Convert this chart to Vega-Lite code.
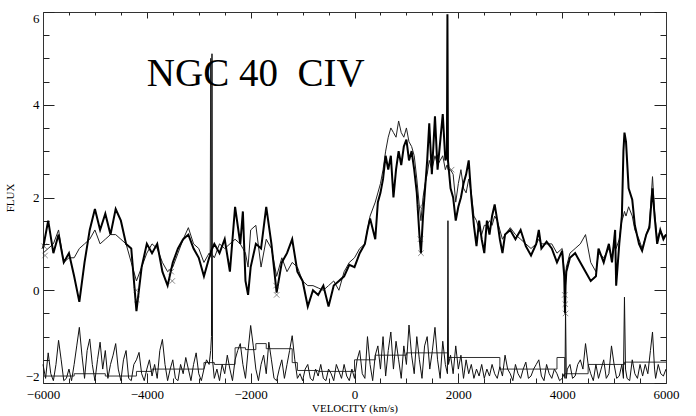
{
  "$schema": "https://vega.github.io/schema/vega-lite/v6.json",
  "width": 623,
  "height": 371,
  "autosize": {"type": "none"},
  "padding": {"left": 43, "top": 12, "right": 30, "bottom": 33},
  "background": "white",
  "config": {
    "view": {"stroke": null},
    "axis": {
      "labelFont": "Liberation Serif",
      "titleFont": "Liberation Serif",
      "labelColor": "black",
      "titleColor": "black",
      "domainColor": "#333333",
      "tickColor": "#222222",
      "grid": false,
      "labelFontSize": 13,
      "titleFontSize": 12,
      "titleFontWeight": "normal"
    }
  },
  "datasets": {
    "spec": [
      {"v": -6000, "thick": 0.9, "thin": 0.8},
      {"v": -5900, "thick": 1.5, "thin": 0.9},
      {"v": -5800, "thick": 0.8, "thin": 1.0},
      {"v": -5700, "thick": 1.2, "thin": 1.3},
      {"v": -5600, "thick": 0.6, "thin": 0.6},
      {"v": -5500, "thick": 0.8, "thin": 0.7},
      {"v": -5400, "thick": 0.3, "thin": 0.7},
      {"v": -5300, "thick": -0.25, "thin": 0.9},
      {"v": -5200, "thick": 0.6, "thin": 1.0},
      {"v": -5100, "thick": 1.3, "thin": 1.1},
      {"v": -5000, "thick": 1.75, "thin": 1.3},
      {"v": -4900, "thick": 1.3, "thin": 1.0},
      {"v": -4800, "thick": 1.65, "thin": 1.1},
      {"v": -4700, "thick": 1.2, "thin": 1.2},
      {"v": -4600, "thick": 1.75, "thin": 1.2},
      {"v": -4500, "thick": 1.5, "thin": 1.1},
      {"v": -4400, "thick": 1.0, "thin": 1.0},
      {"v": -4300, "thick": 0.9, "thin": 0.6},
      {"v": -4200, "thick": -0.45, "thin": 0.2},
      {"v": -4100, "thick": 0.5, "thin": 0.5},
      {"v": -4000, "thick": 1.0, "thin": 0.8},
      {"v": -3900, "thick": 0.8, "thin": 1.0},
      {"v": -3800, "thick": 1.0, "thin": 0.9},
      {"v": -3700, "thick": 0.4, "thin": 0.6},
      {"v": -3600, "thick": 0.1, "thin": 0.4},
      {"v": -3500, "thick": 0.6, "thin": 0.5},
      {"v": -3400, "thick": 0.9, "thin": 0.8},
      {"v": -3300, "thick": 1.1, "thin": 1.1},
      {"v": -3200, "thick": 1.2, "thin": 1.35},
      {"v": -3100, "thick": 0.9, "thin": 1.0},
      {"v": -3000, "thick": 0.7, "thin": 0.9},
      {"v": -2900, "thick": 0.3, "thin": 0.6},
      {"v": -2800, "thick": 0.7, "thin": 0.8},
      {"v": -2780, "thick": 0.75, "thin": 0.75},
      {"v": -2770, "thick": 0.8, "thin": 5.0},
      {"v": -2760, "thick": 0.85, "thin": 0.8},
      {"v": -2700, "thick": 1.0, "thin": 0.7},
      {"v": -2600, "thick": 0.8, "thin": 1.0},
      {"v": -2500, "thick": 1.1, "thin": 0.9},
      {"v": -2400, "thick": 0.4, "thin": 1.0},
      {"v": -2300, "thick": 1.8, "thin": 1.1},
      {"v": -2200, "thick": 1.0, "thin": 1.0},
      {"v": -2150, "thick": 1.7, "thin": 0.9},
      {"v": -2100, "thick": 0.2, "thin": 0.8},
      {"v": -2050, "thick": -0.1, "thin": 0.5},
      {"v": -2000, "thick": 0.5, "thin": 1.3},
      {"v": -1900, "thick": 1.0, "thin": 1.4},
      {"v": -1800, "thick": 0.9, "thin": 0.5},
      {"v": -1700, "thick": 1.8, "thin": 1.1},
      {"v": -1600, "thick": 1.0, "thin": 0.9},
      {"v": -1500, "thick": -0.05, "thin": 0.3},
      {"v": -1400, "thick": 0.6, "thin": 0.7},
      {"v": -1300, "thick": 0.8, "thin": 0.4},
      {"v": -1200, "thick": 1.1, "thin": 0.6},
      {"v": -1100, "thick": 0.4, "thin": 0.5},
      {"v": -1000, "thick": 0.2, "thin": 0.2},
      {"v": -900, "thick": -0.35, "thin": 0.1},
      {"v": -800, "thick": 0.0, "thin": 0.1},
      {"v": -700, "thick": -0.1, "thin": 0.05},
      {"v": -600, "thick": 0.1, "thin": 0.0},
      {"v": -500, "thick": -0.35, "thin": 0.1},
      {"v": -400, "thick": 0.1, "thin": 0.2},
      {"v": -300, "thick": 0.2, "thin": 0.0},
      {"v": -200, "thick": 0.3, "thin": 0.4},
      {"v": -100, "thick": 0.55, "thin": 0.6},
      {"v": 0, "thick": 0.5, "thin": 0.7},
      {"v": 100, "thick": 0.8, "thin": 0.9},
      {"v": 200, "thick": 1.0, "thin": 1.0},
      {"v": 250, "thick": 1.3, "thin": 1.3},
      {"v": 300, "thick": 1.55, "thin": 1.6},
      {"v": 400, "thick": 1.1, "thin": 1.9},
      {"v": 450, "thick": 1.9, "thin": 2.1},
      {"v": 500, "thick": 2.1, "thin": 2.3},
      {"v": 550, "thick": 2.4, "thin": 2.6},
      {"v": 600, "thick": 2.9, "thin": 3.0},
      {"v": 650, "thick": 2.6, "thin": 3.3},
      {"v": 700, "thick": 2.9, "thin": 3.5},
      {"v": 750, "thick": 2.0, "thin": 3.4},
      {"v": 800, "thick": 2.6, "thin": 3.3},
      {"v": 850, "thick": 3.0, "thin": 3.65},
      {"v": 900, "thick": 2.7, "thin": 3.4},
      {"v": 950, "thick": 3.1, "thin": 3.3},
      {"v": 1000, "thick": 3.25, "thin": 3.5},
      {"v": 1050, "thick": 2.8, "thin": 3.2},
      {"v": 1100, "thick": 3.0, "thin": 3.1},
      {"v": 1150, "thick": 2.6, "thin": 2.9},
      {"v": 1200, "thick": 2.1, "thin": 2.4},
      {"v": 1250, "thick": 1.2, "thin": 1.8},
      {"v": 1280, "thick": 0.8, "thin": 1.5},
      {"v": 1320, "thick": 1.6, "thin": 2.0},
      {"v": 1360, "thick": 2.2, "thin": 2.3},
      {"v": 1400, "thick": 2.8, "thin": 2.5},
      {"v": 1440, "thick": 3.6, "thin": 2.8},
      {"v": 1490, "thick": 2.5, "thin": 2.6},
      {"v": 1550, "thick": 3.75, "thin": 2.9},
      {"v": 1600, "thick": 2.6, "thin": 2.7},
      {"v": 1650, "thick": 3.2, "thin": 2.8},
      {"v": 1700, "thick": 3.8, "thin": 2.9},
      {"v": 1750, "thick": 2.8, "thin": 2.6},
      {"v": 1780, "thick": 2.9, "thin": 2.7},
      {"v": 1790, "thick": 5.95, "thin": 2.7},
      {"v": 1800, "thick": 2.8, "thin": 2.6},
      {"v": 1850, "thick": 2.2, "thin": 2.6},
      {"v": 1900, "thick": 2.0, "thin": 2.5},
      {"v": 1950, "thick": 1.5, "thin": 1.9},
      {"v": 2000, "thick": 1.8, "thin": 2.3},
      {"v": 2050, "thick": 2.0, "thin": 2.6},
      {"v": 2100, "thick": 2.3, "thin": 2.2},
      {"v": 2150, "thick": 2.5, "thin": 2.1},
      {"v": 2200, "thick": 2.8, "thin": 2.4},
      {"v": 2250, "thick": 2.0, "thin": 2.1},
      {"v": 2300, "thick": 1.4, "thin": 1.6},
      {"v": 2350, "thick": 0.95, "thin": 1.5},
      {"v": 2400, "thick": 1.5, "thin": 1.3},
      {"v": 2450, "thick": 1.1, "thin": 1.2},
      {"v": 2500, "thick": 0.8, "thin": 1.4},
      {"v": 2550, "thick": 1.5, "thin": 1.4},
      {"v": 2600, "thick": 1.2, "thin": 1.5},
      {"v": 2650, "thick": 1.6, "thin": 1.4},
      {"v": 2700, "thick": 1.85, "thin": 1.6},
      {"v": 2750, "thick": 1.5, "thin": 1.5},
      {"v": 2800, "thick": 1.1, "thin": 1.3},
      {"v": 2850, "thick": 0.8, "thin": 1.1},
      {"v": 2900, "thick": 1.2, "thin": 1.2},
      {"v": 3000, "thick": 1.3, "thin": 1.35},
      {"v": 3100, "thick": 1.1, "thin": 1.2},
      {"v": 3200, "thick": 1.3, "thin": 1.1},
      {"v": 3300, "thick": 0.95, "thin": 1.0},
      {"v": 3400, "thick": 0.75, "thin": 0.9},
      {"v": 3500, "thick": 1.0, "thin": 1.0},
      {"v": 3550, "thick": 1.3, "thin": 1.1},
      {"v": 3600, "thick": 0.9, "thin": 1.0},
      {"v": 3700, "thick": 1.05, "thin": 1.0},
      {"v": 3800, "thick": 0.9, "thin": 1.0},
      {"v": 3900, "thick": 0.6, "thin": 0.8},
      {"v": 4000, "thick": 0.85, "thin": 0.9},
      {"v": 4040, "thick": 0.3, "thin": 0.4},
      {"v": 4055, "thick": -0.5, "thin": -0.3},
      {"v": 4065, "thick": 0.1, "thin": 0.2},
      {"v": 4080, "thick": 0.4, "thin": 0.5},
      {"v": 4150, "thick": 0.7, "thin": 0.8},
      {"v": 4250, "thick": 0.8, "thin": 0.9},
      {"v": 4350, "thick": 0.6, "thin": 1.0},
      {"v": 4450, "thick": 0.4, "thin": 1.2},
      {"v": 4550, "thick": 0.2, "thin": 0.6},
      {"v": 4650, "thick": 0.3, "thin": 0.4},
      {"v": 4700, "thick": 0.9, "thin": 0.8},
      {"v": 4800, "thick": 0.6, "thin": 0.7},
      {"v": 4900, "thick": 1.0, "thin": 0.9},
      {"v": 4960, "thick": 0.6, "thin": 0.7},
      {"v": 5020, "thick": 1.3, "thin": 1.2},
      {"v": 5040, "thick": 0.1, "thin": 0.9},
      {"v": 5100, "thick": 1.0, "thin": 1.1},
      {"v": 5150, "thick": 1.6, "thin": 1.5},
      {"v": 5180, "thick": 3.0, "thin": 1.6},
      {"v": 5200, "thick": 3.4, "thin": 1.7},
      {"v": 5230, "thick": 3.2, "thin": 1.6},
      {"v": 5280, "thick": 2.2, "thin": 1.8},
      {"v": 5350, "thick": 1.95, "thin": 1.6},
      {"v": 5400, "thick": 1.4, "thin": 1.3},
      {"v": 5480, "thick": 1.0, "thin": 1.1},
      {"v": 5540, "thick": 0.85, "thin": 0.9},
      {"v": 5620, "thick": 1.2, "thin": 1.2},
      {"v": 5680, "thick": 1.35, "thin": 1.4},
      {"v": 5740, "thick": 2.2, "thin": 2.45},
      {"v": 5780, "thick": 1.6, "thin": 1.7},
      {"v": 5830, "thick": 1.0, "thin": 1.1},
      {"v": 5890, "thick": 1.3, "thin": 1.3},
      {"v": 5950, "thick": 1.1, "thin": 1.15},
      {"v": 6000, "thick": 1.2, "thin": 1.2}
    ],
    "noise": [
      {"v": -6000, "n": -1.6}, {"v": -5950, "n": -1.9}, {"v": -5900, "n": -1.35}, {"v": -5850, "n": -1.8},
      {"v": -5800, "n": -1.95}, {"v": -5750, "n": -1.6}, {"v": -5700, "n": -1.08}, {"v": -5650, "n": -1.5},
      {"v": -5600, "n": -1.95}, {"v": -5550, "n": -1.9}, {"v": -5500, "n": -1.7}, {"v": -5450, "n": -1.95},
      {"v": -5400, "n": -1.6}, {"v": -5350, "n": -1.2}, {"v": -5300, "n": -0.8}, {"v": -5250, "n": -1.4},
      {"v": -5200, "n": -1.9}, {"v": -5150, "n": -1.3}, {"v": -5100, "n": -1.05}, {"v": -5050, "n": -1.6},
      {"v": -5000, "n": -1.95}, {"v": -4950, "n": -1.5}, {"v": -4900, "n": -1.12}, {"v": -4850, "n": -1.7},
      {"v": -4800, "n": -1.3}, {"v": -4750, "n": -1.9}, {"v": -4700, "n": -1.6}, {"v": -4650, "n": -1.4},
      {"v": -4600, "n": -1.15}, {"v": -4550, "n": -1.7}, {"v": -4500, "n": -1.95}, {"v": -4450, "n": -1.5},
      {"v": -4400, "n": -1.3}, {"v": -4350, "n": -1.9}, {"v": -4300, "n": -1.95}, {"v": -4250, "n": -1.6},
      {"v": -4200, "n": -1.5}, {"v": -4150, "n": -1.34}, {"v": -4100, "n": -1.8}, {"v": -4050, "n": -1.95},
      {"v": -4000, "n": -1.7}, {"v": -3950, "n": -1.5}, {"v": -3900, "n": -1.85}, {"v": -3850, "n": -1.6},
      {"v": -3800, "n": -1.9}, {"v": -3750, "n": -1.3}, {"v": -3700, "n": -1.06}, {"v": -3650, "n": -1.6},
      {"v": -3600, "n": -1.95}, {"v": -3550, "n": -1.7}, {"v": -3500, "n": -1.5}, {"v": -3450, "n": -1.9},
      {"v": -3400, "n": -1.95}, {"v": -3350, "n": -1.6}, {"v": -3300, "n": -1.8}, {"v": -3250, "n": -1.45},
      {"v": -3200, "n": -1.7}, {"v": -3150, "n": -1.95}, {"v": -3100, "n": -1.6}, {"v": -3050, "n": -1.35},
      {"v": -3000, "n": -1.8}, {"v": -2950, "n": -1.95}, {"v": -2900, "n": -1.7}, {"v": -2850, "n": -1.5},
      {"v": -2800, "n": -1.6}, {"v": -2770, "n": -1.3}, {"v": -2755, "n": -1.0}, {"v": -2745, "n": 5.1},
      {"v": -2735, "n": -1.5}, {"v": -2700, "n": -1.9}, {"v": -2650, "n": -1.7}, {"v": -2600, "n": -1.95},
      {"v": -2550, "n": -1.6}, {"v": -2500, "n": -1.8}, {"v": -2450, "n": -1.4}, {"v": -2400, "n": -1.7},
      {"v": -2350, "n": -1.95}, {"v": -2300, "n": -1.5}, {"v": -2250, "n": -1.3}, {"v": -2200, "n": -1.15},
      {"v": -2150, "n": -1.6}, {"v": -2100, "n": -1.9}, {"v": -2050, "n": -1.3}, {"v": -2000, "n": -0.76},
      {"v": -1950, "n": -1.2}, {"v": -1900, "n": -1.7}, {"v": -1850, "n": -1.95}, {"v": -1800, "n": -1.6},
      {"v": -1750, "n": -1.4}, {"v": -1700, "n": -1.8}, {"v": -1650, "n": -1.12}, {"v": -1600, "n": -1.5},
      {"v": -1550, "n": -1.9}, {"v": -1500, "n": -1.95}, {"v": -1450, "n": -1.7}, {"v": -1400, "n": -1.5},
      {"v": -1350, "n": -1.9}, {"v": -1300, "n": -1.6}, {"v": -1250, "n": -1.3}, {"v": -1200, "n": -0.98},
      {"v": -1150, "n": -1.5}, {"v": -1100, "n": -1.9}, {"v": -1050, "n": -1.8}, {"v": -1000, "n": -1.95},
      {"v": -950, "n": -1.7}, {"v": -900, "n": -1.6}, {"v": -850, "n": -1.9}, {"v": -800, "n": -1.95},
      {"v": -750, "n": -1.7}, {"v": -700, "n": -1.85}, {"v": -650, "n": -1.6}, {"v": -600, "n": -1.9},
      {"v": -550, "n": -1.95}, {"v": -500, "n": -1.7}, {"v": -450, "n": -1.8}, {"v": -400, "n": -1.95},
      {"v": -350, "n": -1.6}, {"v": -300, "n": -1.75}, {"v": -250, "n": -1.9}, {"v": -200, "n": -1.6},
      {"v": -150, "n": -1.85}, {"v": -100, "n": -1.95}, {"v": -50, "n": -1.7}, {"v": 0, "n": -1.9},
      {"v": 50, "n": -1.5}, {"v": 100, "n": -1.3}, {"v": 150, "n": -1.8}, {"v": 200, "n": -1.9},
      {"v": 250, "n": -1.0}, {"v": 300, "n": -1.6}, {"v": 350, "n": -1.95}, {"v": 400, "n": -1.4},
      {"v": 450, "n": -1.2}, {"v": 500, "n": -1.7}, {"v": 550, "n": -1.0}, {"v": 600, "n": -1.85},
      {"v": 650, "n": -1.3}, {"v": 700, "n": -0.9}, {"v": 750, "n": -1.7}, {"v": 800, "n": -1.1},
      {"v": 850, "n": -1.5}, {"v": 900, "n": -1.9}, {"v": 950, "n": -1.2}, {"v": 1000, "n": -1.6},
      {"v": 1050, "n": -0.75}, {"v": 1100, "n": -1.4}, {"v": 1150, "n": -1.8}, {"v": 1200, "n": -1.0},
      {"v": 1250, "n": -1.5}, {"v": 1300, "n": -1.9}, {"v": 1350, "n": -1.2}, {"v": 1400, "n": -1.0},
      {"v": 1450, "n": -1.7}, {"v": 1500, "n": -1.3}, {"v": 1550, "n": -0.8}, {"v": 1600, "n": -1.5},
      {"v": 1650, "n": -1.9}, {"v": 1700, "n": -1.1}, {"v": 1750, "n": -1.6}, {"v": 1790, "n": -1.8},
      {"v": 1800, "n": 1.5}, {"v": 1810, "n": -1.6}, {"v": 1850, "n": -1.4}, {"v": 1900, "n": -1.8},
      {"v": 1950, "n": -1.2}, {"v": 2000, "n": -1.7}, {"v": 2050, "n": -1.4}, {"v": 2100, "n": -1.9},
      {"v": 2150, "n": -1.5}, {"v": 2200, "n": -1.8}, {"v": 2250, "n": -1.6}, {"v": 2300, "n": -1.9},
      {"v": 2350, "n": -1.7}, {"v": 2400, "n": -1.85}, {"v": 2450, "n": -1.6}, {"v": 2500, "n": -1.9},
      {"v": 2550, "n": -1.7}, {"v": 2600, "n": -1.85}, {"v": 2650, "n": -1.6}, {"v": 2700, "n": -1.8},
      {"v": 2750, "n": -1.9}, {"v": 2800, "n": -1.65}, {"v": 2850, "n": -1.85}, {"v": 2900, "n": -1.4},
      {"v": 2950, "n": -1.7}, {"v": 3000, "n": -1.8}, {"v": 3050, "n": -1.95}, {"v": 3100, "n": -1.6},
      {"v": 3150, "n": -1.8}, {"v": 3200, "n": -1.9}, {"v": 3250, "n": -1.7}, {"v": 3300, "n": -1.55},
      {"v": 3350, "n": -1.9}, {"v": 3400, "n": -1.85}, {"v": 3450, "n": -1.7}, {"v": 3500, "n": -1.6},
      {"v": 3550, "n": -1.5}, {"v": 3600, "n": -1.85}, {"v": 3650, "n": -1.95}, {"v": 3700, "n": -1.6},
      {"v": 3750, "n": -1.8}, {"v": 3800, "n": -1.9}, {"v": 3850, "n": -1.7}, {"v": 3900, "n": -1.8},
      {"v": 3950, "n": -1.95}, {"v": 4000, "n": -1.9}, {"v": 4040, "n": -1.8}, {"v": 4055, "n": -1.9},
      {"v": 4065, "n": -0.4}, {"v": 4080, "n": -1.9}, {"v": 4100, "n": -1.7}, {"v": 4150, "n": -1.6},
      {"v": 4200, "n": -1.9}, {"v": 4250, "n": -1.85}, {"v": 4300, "n": -1.6}, {"v": 4350, "n": -1.5},
      {"v": 4400, "n": -1.7}, {"v": 4450, "n": -1.15}, {"v": 4500, "n": -1.6}, {"v": 4550, "n": -1.8},
      {"v": 4600, "n": -1.95}, {"v": 4650, "n": -1.6}, {"v": 4700, "n": -1.9}, {"v": 4750, "n": -1.7},
      {"v": 4800, "n": -1.5}, {"v": 4850, "n": -1.9}, {"v": 4900, "n": -1.8}, {"v": 4950, "n": -1.2},
      {"v": 5000, "n": -1.6}, {"v": 5050, "n": -1.9}, {"v": 5100, "n": -1.85}, {"v": 5150, "n": -1.6},
      {"v": 5180, "n": -1.9}, {"v": 5200, "n": -0.15}, {"v": 5220, "n": -1.7}, {"v": 5250, "n": -1.9},
      {"v": 5300, "n": -1.95}, {"v": 5350, "n": -1.5}, {"v": 5400, "n": -1.8}, {"v": 5450, "n": -1.9},
      {"v": 5500, "n": -1.6}, {"v": 5550, "n": -1.85}, {"v": 5600, "n": -1.6}, {"v": 5650, "n": -1.8},
      {"v": 5700, "n": -1.3}, {"v": 5740, "n": -0.9}, {"v": 5780, "n": -1.7}, {"v": 5800, "n": -1.9},
      {"v": 5850, "n": -1.6}, {"v": 5900, "n": -1.8}, {"v": 5950, "n": -1.85}, {"v": 6000, "n": -1.7}
    ],
    "steps": [
      {"v": -6000, "s": -1.85},
      {"v": -5400, "s": -1.8},
      {"v": -4800, "s": -1.85},
      {"v": -4200, "s": -1.75},
      {"v": -3900, "s": -1.7},
      {"v": -2900, "s": -1.56},
      {"v": -2700, "s": -1.6},
      {"v": -2300, "s": -1.24},
      {"v": -2100, "s": -1.28},
      {"v": -1900, "s": -1.15},
      {"v": -1700, "s": -1.26},
      {"v": -1200, "s": -1.56},
      {"v": -1100, "s": -1.73},
      {"v": -700, "s": -1.75},
      {"v": 0, "s": -1.5},
      {"v": 400, "s": -1.4},
      {"v": 1000, "s": -1.35},
      {"v": 1800, "s": -1.45},
      {"v": 2800, "s": -1.7},
      {"v": 3900, "s": -1.45},
      {"v": 4050, "s": -1.8},
      {"v": 4500, "s": -1.6},
      {"v": 5200, "s": -1.55},
      {"v": 6000, "s": -1.55}
    ],
    "marks": [
      {"v": -5980, "f": 0.95},
      {"v": -5960, "f": 0.75},
      {"v": -4200, "f": 0.0},
      {"v": -4190, "f": -0.2},
      {"v": -3530, "f": 0.4},
      {"v": -3510, "f": 0.2},
      {"v": -1510, "f": 0.1},
      {"v": -1500, "f": -0.1},
      {"v": 1260, "f": 1.8},
      {"v": 1270, "f": 1.1},
      {"v": 1280, "f": 0.8},
      {"v": 1870, "f": 2.6},
      {"v": 4050, "f": -0.1},
      {"v": 4060, "f": -0.3},
      {"v": 4065, "f": -0.5}
    ],
    "label": [
      {"text": "NGC 40\u00a0 CIV"}
    ]
  },
  "layer": [
    {
      "data": {"name": "steps"},
      "mark": {"type": "line", "interpolate": "step-after", "color": "#333333", "strokeWidth": 1},
      "encoding": {
        "x": {"field": "v", "type": "quantitative",
              "scale": {"domain": [-6000, 6000], "nice": false, "zero": false},
              "axis": {"orient": "bottom", "values": [-6000, -4000, -2000, 0, 2000, 4000, 6000], "format": "d", "tickSize": -10, "labelPadding": 15, "labelFont": "Liberation Serif", "labelFontSize": 13, "title": "VELOCITY (km/s)", "titleFont": "Liberation Serif", "titlePadding": 1, "titleFontSize": 11, "labelFlush": false}},
        "y": {"field": "s", "type": "quantitative",
              "scale": {"domain": [-2, 6], "nice": false, "zero": false},
              "axis": {"orient": "left", "values": [-2, 0, 2, 4, 6], "format": "d", "tickSize": -11, "labelPadding": 15, "labelFlush": true, "labelFont": "Liberation Serif", "labelFontSize": 13, "title": "FLUX", "titleFont": "Liberation Serif", "titlePadding": 10, "titleFontSize": 11}}
      }
    },
    {
      "data": {"name": "noise"},
      "mark": {"type": "line", "color": "#111111", "strokeWidth": 1},
      "encoding": {
        "x": {"field": "v", "type": "quantitative",
              "scale": {"domain": [-6000, 6000], "nice": false, "zero": false},
              "axis": {"orient": "bottom", "values": [-5500, -5000, -4500, -3500, -3000, -2500, -1500, -1000, -500, 500, 1000, 1500, 2500, 3000, 3500, 4500, 5000, 5500], "tickSize": -5, "labels": false, "domain": false, "title": null}},
        "y": {"field": "n", "type": "quantitative",
              "scale": {"domain": [-2, 6], "nice": false, "zero": false},
              "axis": {"orient": "left", "values": [-1.5, -1, -0.5, 0.5, 1, 1.5, 2.5, 3, 3.5, 4.5, 5, 5.5], "tickSize": -6, "labels": false, "domain": false, "title": null}}
      }
    },
    {
      "data": {"name": "spec"},
      "mark": {"type": "line", "color": "#222222", "strokeWidth": 1},
      "encoding": {
        "x": {"field": "v", "type": "quantitative",
              "scale": {"domain": [-6000, 6000], "nice": false, "zero": false},
              "axis": {"orient": "top", "values": [-6000, -4000, -2000, 0, 2000, 4000, 6000], "tickSize": -6, "labels": false, "title": null}},
        "y": {"field": "thin", "type": "quantitative",
              "scale": {"domain": [-2, 6], "nice": false, "zero": false},
              "axis": {"orient": "right", "values": [-2, 0, 2, 4, 6], "tickSize": -12, "labels": false, "title": null}}
      }
    },
    {
      "data": {"name": "spec"},
      "mark": {"type": "line", "color": "#000000", "strokeWidth": 2},
      "encoding": {
        "x": {"field": "v", "type": "quantitative",
              "scale": {"domain": [-6000, 6000], "nice": false, "zero": false},
              "axis": {"orient": "top", "values": [-5500, -5000, -4500, -3500, -3000, -2500, -1500, -1000, -500, 500, 1000, 1500, 2500, 3000, 3500, 4500, 5000, 5500], "tickSize": -3, "labels": false, "domain": false, "title": null}},
        "y": {"field": "thick", "type": "quantitative",
              "scale": {"domain": [-2, 6], "nice": false, "zero": false},
              "axis": {"orient": "right", "values": [-1.5, -1, -0.5, 0.5, 1, 1.5, 2.5, 3, 3.5, 4.5, 5, 5.5], "tickSize": -6, "labels": false, "domain": false, "title": null}}
      }
    },
    {
      "data": {"name": "marks"},
      "mark": {"type": "point", "shape": "M-1,-1L1,1M1,-1L-1,1", "size": 30, "filled": false, "color": "#333333", "strokeWidth": 0.8},
      "encoding": {
        "x": {"field": "v", "type": "quantitative", "scale": {"domain": [-6000, 6000], "nice": false, "zero": false}, "axis": null},
        "y": {"field": "f", "type": "quantitative", "scale": {"domain": [-2, 6], "nice": false, "zero": false}, "axis": null}
      }
    },
    {
      "data": {"name": "label"},
      "mark": {"type": "text", "font": "Liberation Serif", "fontSize": 39, "align": "left", "baseline": "alphabetic", "color": "black"},
      "encoding": {
        "x": {"datum": -4000, "type": "quantitative", "scale": {"domain": [-6000, 6000], "nice": false, "zero": false}, "axis": null},
        "y": {"datum": 4.4, "type": "quantitative", "scale": {"domain": [-2, 6], "nice": false, "zero": false}, "axis": null},
        "text": {"field": "text", "type": "nominal"}
      }
    }
  ],
  "resolve": {"axis": {"x": "independent", "y": "independent"}}
}
